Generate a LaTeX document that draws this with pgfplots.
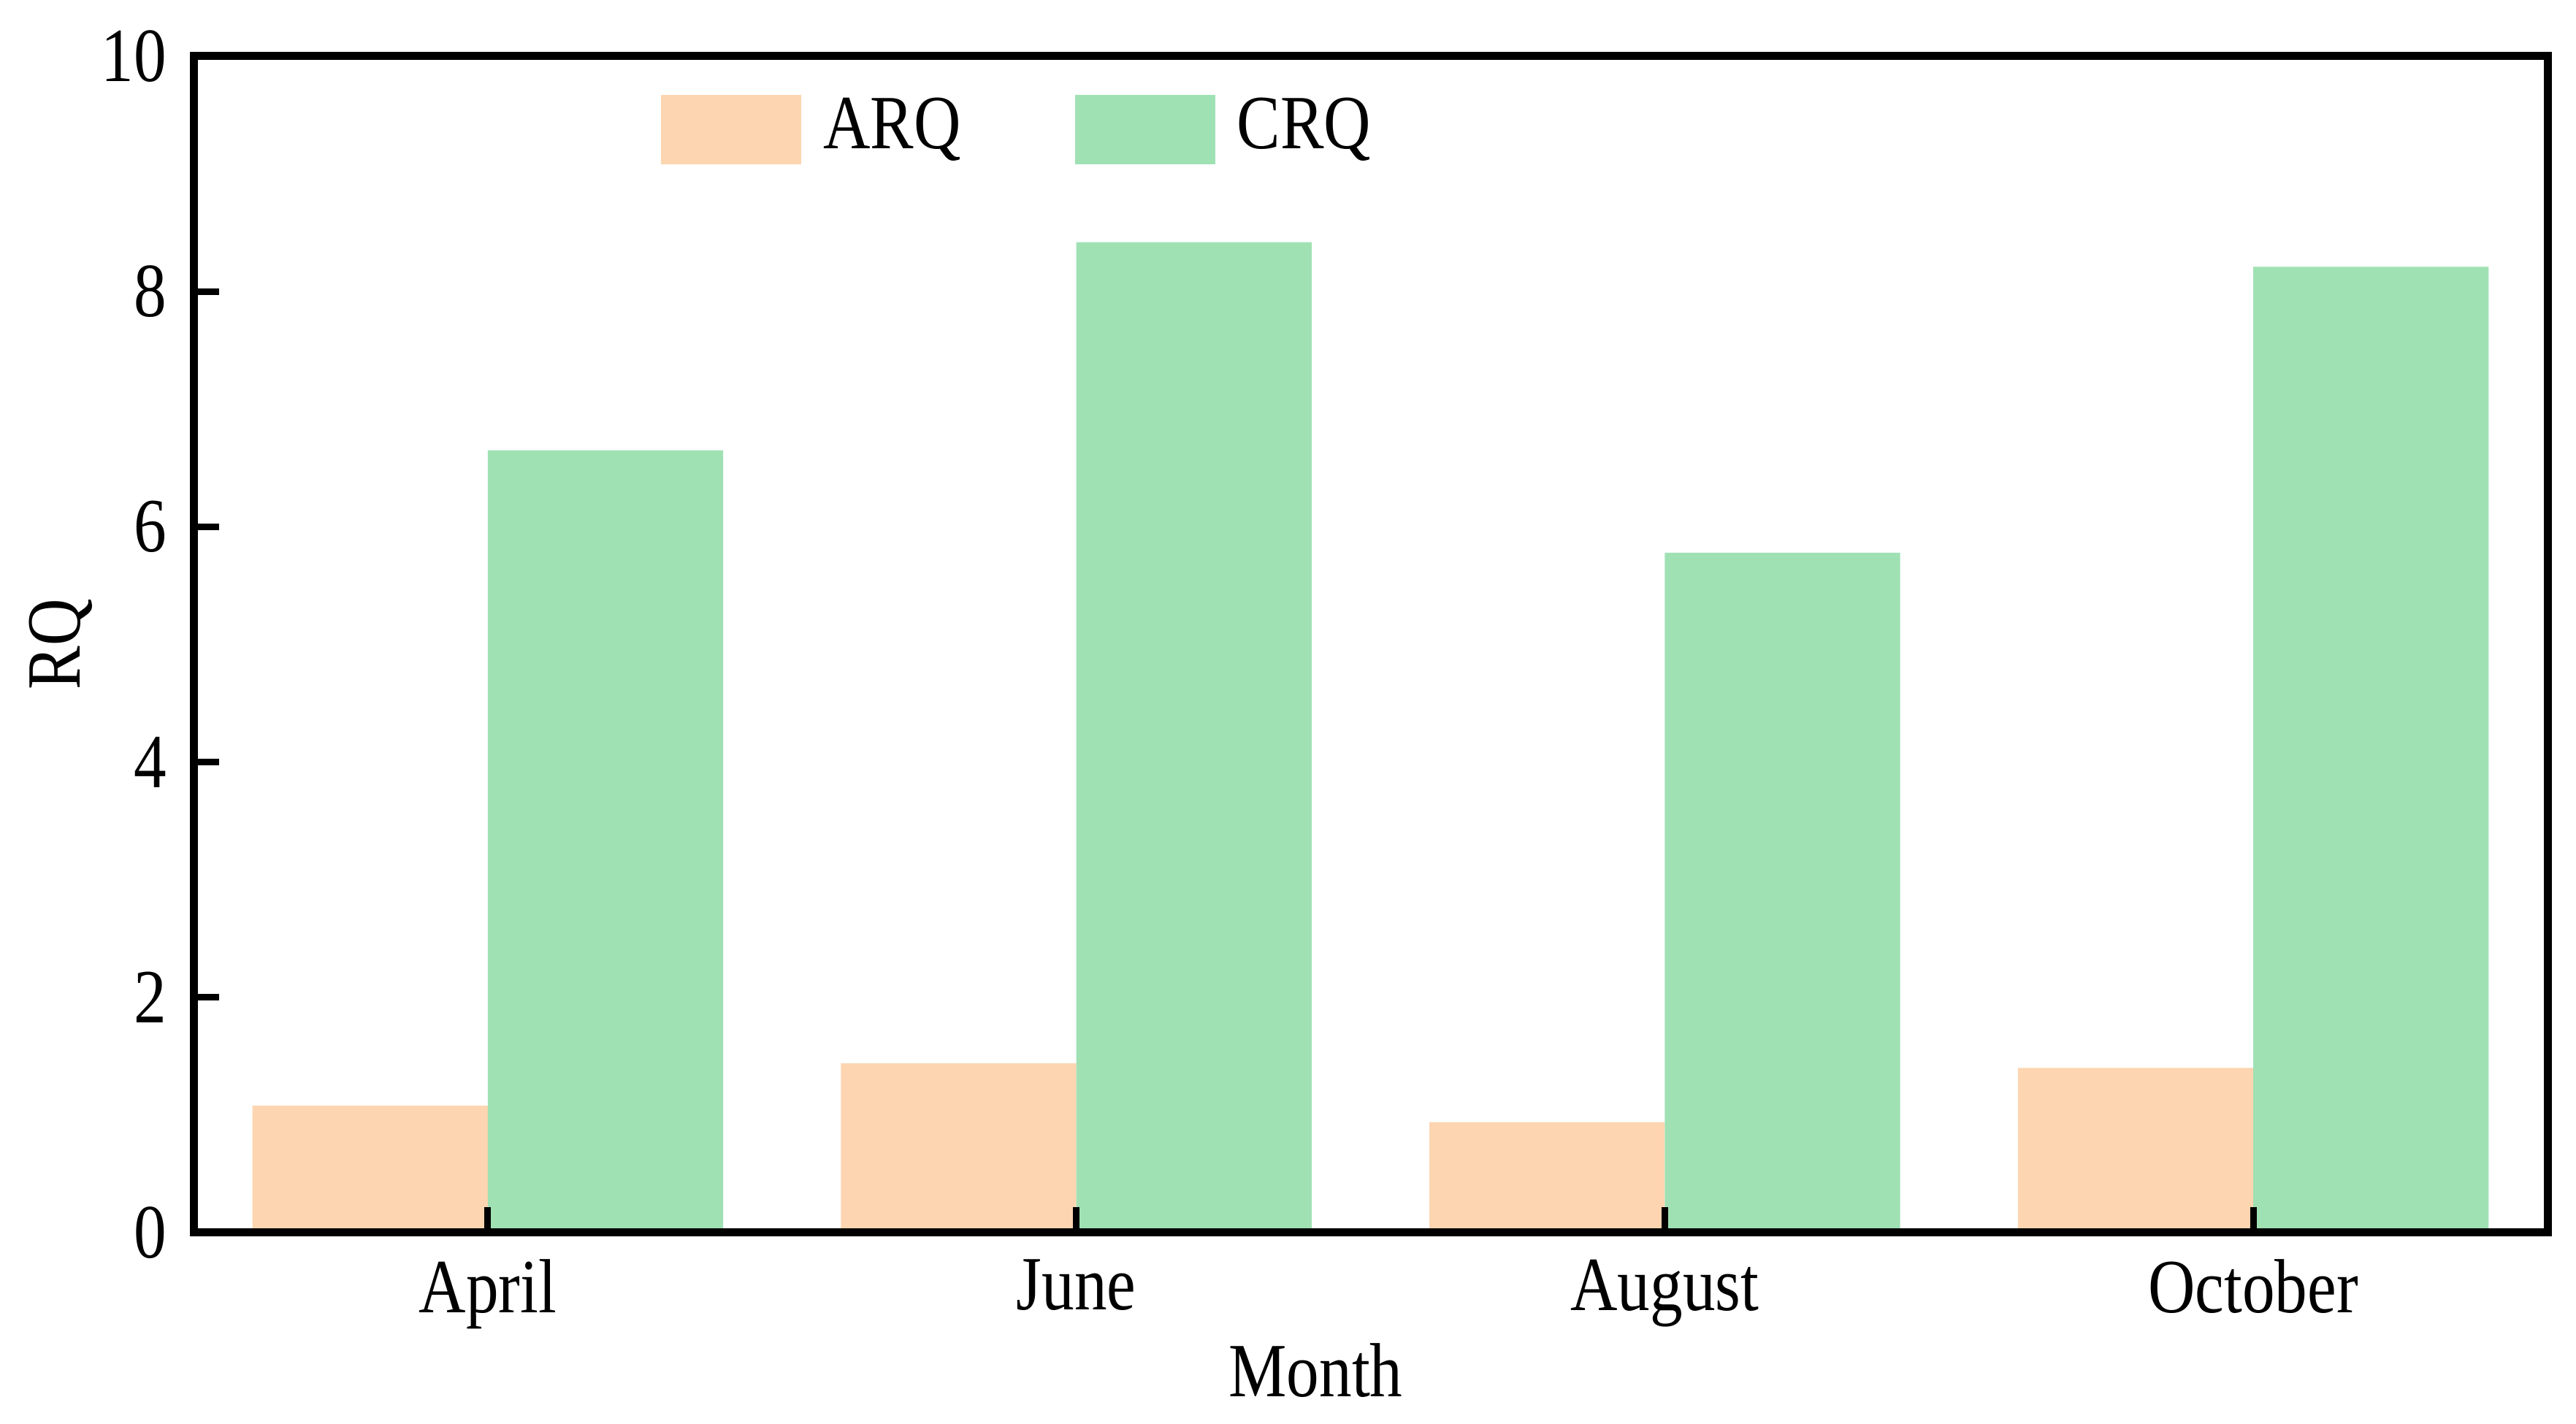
\documentclass[border=0pt]{standalone}
\usepackage{fontspec}
\setmainfont{Liberation Serif}[FakeStretch=0.85]
\usepackage{pgfplots}
\pgfplotsset{compat=1.18}
\definecolor{arq}{RGB}{253,213,176}
\definecolor{crq}{RGB}{160,225,180}
\begin{document}
\fontsize{10.5}{12.5}\selectfont
\begin{tikzpicture}
\path[use as bounding box] (-26.5pt,-26.2pt) rectangle (326.2pt,168.8pt);
\begin{axis}[
  ybar, bar width=0.4,
  at={(0pt,0pt)}, anchor=south west,
  scale only axis, width=322.3pt, height=161.1pt,
  xmin=-0.5, xmax=3.5, ymin=0, ymax=10,
  xtick={0,1,2,3}, xticklabels={April,June,August,October},
  ytick={0,2,4,6,8,10},
  xtick pos=bottom, ytick pos=left,
  tick align=inside, major tick length=3.5pt,
  axis line style={line width=1.1pt},
  tick style={line width=0.9pt, black},
  axis on top,
  xlabel={Month}, ylabel={RQ},
  xlabel style={xshift=-7.5pt, yshift=5.3pt},
  ylabel style={yshift=-6pt},
  /pgf/number format/assume math mode=true,
  ticklabel style={font=\fontsize{10.5}{12.5}\selectfont},
  label style={font=\fontsize{10.5}{12.5}\selectfont},
  legend style={at={(axis description cs:0.198,0.978)}, anchor=north west,
    draw=none, fill=none, inner sep=0pt, font=\fontsize{10.5}{12.5}\selectfont,
    legend columns=2,
    /tikz/every odd column/.append style={column sep=1pt},
    /tikz/every even column/.append style={column sep=13.6pt}},
  legend image code/.code={\fill[#1] (0pt,-4.75pt) rectangle (19.2pt,4.75pt);},
]
\addplot[draw=none, fill=arq, bar shift=-0.2] coordinates {(0,1.08) (1,1.44) (2,0.94) (3,1.40)};
\addplot[draw=none, fill=crq, bar shift=0.2] coordinates {(0,6.65) (1,8.42) (2,5.78) (3,8.21)};
\legend{ARQ,CRQ}
\end{axis}
\end{tikzpicture}
\end{document}
